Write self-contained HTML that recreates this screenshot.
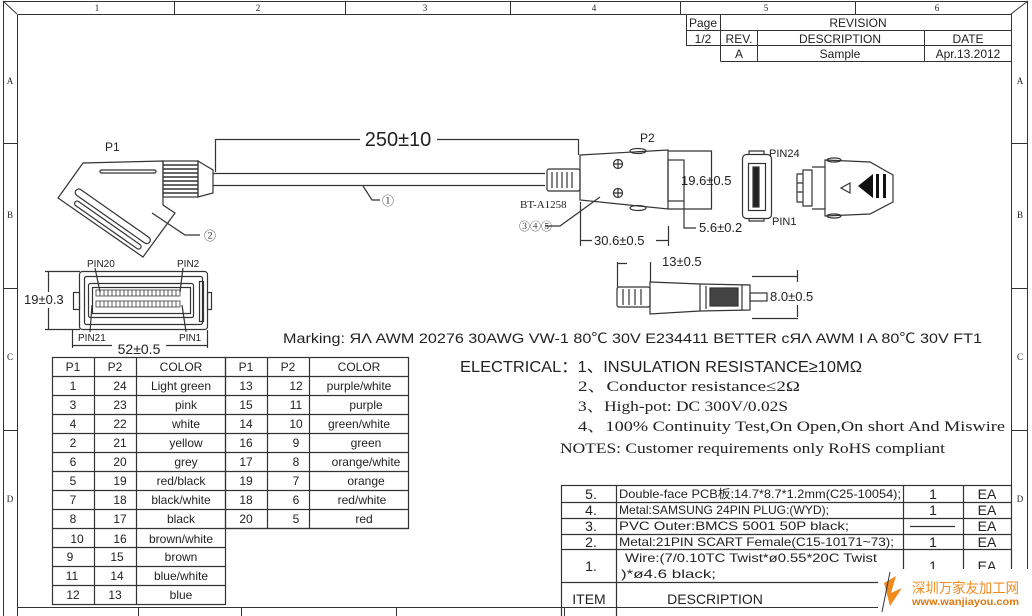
<!DOCTYPE html>
<html><head><meta charset="utf-8"><style>
html,body{margin:0;padding:0;background:#fff}
svg{display:block}
text{font-family:"Liberation Sans","Noto Sans CJK SC",sans-serif;fill:#222}
.s{font-family:"Liberation Serif","Noto Serif CJK SC",serif}
</style></head><body>
<svg width="1032" height="616" viewBox="0 0 1032 616" xmlns="http://www.w3.org/2000/svg">
<g fill="none" stroke="#333" stroke-width="1">
<rect x="3.5" y="1.5" width="1024" height="640"/>
<line x1="17.5" y1="14.5" x2="17.5" y2="616"/>
<line x1="17.5" y1="14.5" x2="1011.5" y2="14.5"/>
<line x1="1011.5" y1="14.5" x2="1011.5" y2="616"/>
<line x1="3" y1="1" x2="17" y2="14"/>
<line x1="1028" y1="1" x2="1011" y2="14"/>
<line x1="174.5" y1="1" x2="174.5" y2="14"/>
<line x1="345.5" y1="1" x2="345.5" y2="14"/>
<line x1="510.5" y1="1" x2="510.5" y2="14"/>
<line x1="680.5" y1="1" x2="680.5" y2="14"/>
<line x1="855.5" y1="1" x2="855.5" y2="14"/>
<line x1="3" y1="143.5" x2="17" y2="143.5"/>
<line x1="3" y1="288.5" x2="17" y2="288.5"/>
<line x1="3" y1="430.5" x2="17" y2="430.5"/>
<line x1="1011" y1="143.5" x2="1028" y2="143.5"/>
<line x1="1011" y1="288.5" x2="1028" y2="288.5"/>
<line x1="1011" y1="430.5" x2="1028" y2="430.5"/>
<line x1="17" y1="607.5" x2="1011" y2="607.5"/>
<line x1="138.5" y1="607" x2="138.5" y2="616"/>
<line x1="241.5" y1="607" x2="241.5" y2="616"/>
<line x1="396.5" y1="607" x2="396.5" y2="616"/>
<line x1="564.5" y1="607" x2="564.5" y2="616"/>
<rect x="686.5" y="14.5" width="325" height="31"/>
<line x1="686.5" y1="30.5" x2="1011" y2="30.5"/>
<line x1="720.5" y1="14.5" x2="720.5" y2="61.5"/>
<line x1="720.5" y1="61.5" x2="1011" y2="61.5"/>
<line x1="757.5" y1="30.5" x2="757.5" y2="61.5"/>
<line x1="924.5" y1="30.5" x2="924.5" y2="61.5"/>
</g>
<g font-size="9" text-anchor="middle" class="s">
<text x="97" y="11" class="s">1</text><text x="258" y="11" class="s">2</text><text x="425" y="11" class="s">3</text><text x="594" y="11" class="s">4</text><text x="766" y="11" class="s">5</text><text x="937" y="11" class="s">6</text>
<text x="10" y="84" class="s">A</text><text x="10" y="218" class="s">B</text><text x="10" y="360" class="s">C</text><text x="10" y="502" class="s">D</text>
<text x="1020" y="84" class="s">A</text><text x="1020" y="218" class="s">B</text><text x="1020" y="360" class="s">C</text><text x="1020" y="502" class="s">D</text>
</g>
<g font-size="12" text-anchor="middle">
<text x="703" y="27">Page</text><text x="858" y="27">REVISION</text>
<text x="703" y="43">1/2</text><text x="739" y="43">REV.</text><text x="840" y="43">DESCRIPTION</text><text x="968" y="43">DATE</text>
<text x="739" y="58">A</text><text x="840" y="58">Sample</text><text x="968" y="58">Apr.13.2012</text>
</g>

<g fill="none" stroke="#333" stroke-width="1.2">
<polygon points="83,163 163,161 163,205 175,213 143,257 58,198"/>
<rect x="163" y="161" width="35" height="36"/>
<g stroke-width="1.4"><line x1="163" y1="165" x2="198" y2="165"/><line x1="163" y1="169" x2="198" y2="169"/><line x1="163" y1="173" x2="198" y2="173"/><line x1="163" y1="177" x2="198" y2="177"/><line x1="163" y1="181" x2="198" y2="181"/><line x1="163" y1="185" x2="198" y2="185"/><line x1="163" y1="189" x2="198" y2="189"/><line x1="163" y1="193" x2="198" y2="193"/></g>
<polygon points="198,161 213,170 213,193 198,197"/>
<rect x="100" y="170" width="56" height="3" rx="1.5"/>
<g transform="rotate(35 110 215)"><rect x="68" y="211" width="90" height="7" rx="3.5"/><rect x="74" y="222" width="80" height="5" rx="2.5"/></g>
<line x1="213" y1="173.5" x2="545" y2="173.5"/>
<line x1="213" y1="185.5" x2="545" y2="185.5"/>
<line x1="215.5" y1="139" x2="215.5" y2="172"/>
<line x1="216" y1="139.5" x2="360" y2="139.5"/>
<line x1="437" y1="139.5" x2="578" y2="139.5"/>
<line x1="578.5" y1="139" x2="578.5" y2="155"/>
<polyline points="363,186 372,200 380,200"/>
<polyline points="152,213 185,235 200,235"/>
<rect x="79.5" y="271.5" width="128" height="58" rx="3"/>
<rect x="84.5" y="276.5" width="118" height="48" rx="2"/>
<rect x="88.5" y="283.5" width="105" height="34" rx="2"/>
<rect x="92.5" y="287.5" width="98" height="26"/>
<rect x="73.5" y="292.5" width="6" height="17"/>
<rect x="207.5" y="292.5" width="4" height="17"/>
<rect x="199.5" y="281.5" width="4" height="40"/>
<line x1="48.5" y1="271" x2="48.5" y2="292"/><line x1="48.5" y1="308" x2="48.5" y2="329"/>
<line x1="45" y1="271.5" x2="80" y2="271.5"/><line x1="45" y1="329.5" x2="80" y2="329.5"/>
<line x1="72.5" y1="330" x2="72.5" y2="348"/><line x1="207.5" y1="330" x2="207.5" y2="348"/>
<line x1="72" y1="345.5" x2="112" y2="345.5"/><line x1="166" y1="345.5" x2="207" y2="345.5"/>
<line x1="95" y1="268" x2="100" y2="292"/><line x1="183" y1="268" x2="180" y2="292"/>
<line x1="90" y1="332" x2="92" y2="305"/><line x1="186" y1="332" x2="182" y2="305"/>
</g>
<g fill="none" stroke="#333" stroke-width="0.8">
<path d="M96 290h84v6h-84zM100 290v6M104 290v6M108 290v6M112 290v6M116 290v6M120 290v6M124 290v6M128 290v6M132 290v6M136 290v6M140 290v6M144 290v6M148 290v6M152 290v6M156 290v6M160 290v6M164 290v6M168 290v6M172 290v6M176 290v6"/>
<path d="M96 301h84v6h-84zM100 301v6M104 301v6M108 301v6M112 301v6M116 301v6M120 301v6M124 301v6M128 301v6M132 301v6M136 301v6M140 301v6M144 301v6M148 301v6M152 301v6M156 301v6M160 301v6M164 301v6M168 301v6M172 301v6M176 301v6"/>
</g>
<text x="105" y="151" font-size="12">P1</text>
<text x="398" y="146" font-size="20" text-anchor="middle">250±10</text>
<text x="382" y="205" font-size="12" class="s">①</text>
<text x="204" y="240" font-size="12" class="s">②</text>
<text x="87" y="267" font-size="10">PIN20</text>
<text x="177" y="267" font-size="10">PIN2</text>
<text x="78" y="341" font-size="10">PIN21</text>
<text x="179" y="341" font-size="10">PIN1</text>
<text x="24" y="304" font-size="13">19±0.3</text>
<text x="139" y="354" font-size="14" text-anchor="middle">52±0.5</text>

<g fill="none" stroke="#333" stroke-width="1.2">
<rect x="547" y="169" width="33" height="22" rx="2"/>
<path d="M552 172v16M557 172v16M562 172v16M567 172v16M572 172v16"/>
<polygon points="580,155 668,150 668,209 580,200"/>
<ellipse cx="638" cy="151" rx="8" ry="2.5"/><ellipse cx="638" cy="208" rx="8" ry="2.5"/>
<circle cx="618" cy="164" r="4.5"/><circle cx="618" cy="193" r="4.5"/>
<path d="M614 164h8M618 160v8M614 193h8M618 189v8"/>
<rect x="668" y="160" width="16" height="41"/>
<path d="M668 151h44M668 209h44M711.5 151v58"/>
<path d="M684 201v27h12"/>
<path d="M580.5 202v44M668.5 226v20M580 240.5h12M656 240.5h12"/>
<polyline points="545,226 560,226 600,197"/>
<rect x="742.5" y="154.5" width="29" height="64" rx="4"/>
<rect x="748.5" y="163.5" width="17" height="47"/>
<rect x="753" y="167" width="6" height="40" fill="#222"/>
<path d="M749 154v-3h15v3M749 218v3h15v-3"/>
<polygon points="825,160 870,162 893,175 893,202 870,214 825,216"/>
<path d="M812 167h13M812 209h13M803 170h9v36h-9zM797 174h6v28h-6zM797 183h6M797 192h6"/>
<ellipse cx="834" cy="160" rx="7" ry="2"/><ellipse cx="834" cy="216" rx="7" ry="2"/>
<polygon points="841,188 850,183 850,193"/>
<rect x="617" y="287" width="33" height="20" rx="2"/>
<path d="M623 289v16M629 289v16M635 289v16M641 289v16"/>
<polygon points="650,282 700,284 750,285 750,310 700,311 650,314"/>
<path d="M700 284v27M706 286v23M742 285v25"/>
<rect x="710" y="288" width="28" height="18" fill="#444"/>
<rect x="750" y="293" width="17" height="8"/>
<path d="M617.5 262v25M650.5 262v20M617 263.5h10M752 276.5h46M752 318.5h46M797.5 270v12M797.5 305v12"/>
</g>
<polygon points="858,186 873,174 873,198" fill="#111"/>
<rect x="876" y="174" width="3" height="24" fill="#111"/><rect x="883" y="174" width="3" height="24" fill="#111"/>
<text x="640" y="142" font-size="12">P2</text>
<text x="681" y="185" font-size="13">19.6±0.5</text>
<text x="699" y="232" font-size="13">5.6±0.2</text>
<text x="594" y="245" font-size="13">30.6±0.5</text>
<text x="520" y="208" font-size="11" class="s">BT-A1258</text>
<text x="519" y="230" font-size="11" class="s">③④⑤</text>
<text x="769" y="157" font-size="11">PIN24</text>
<text x="772" y="225" font-size="11">PIN1</text>
<text x="662" y="266" font-size="13">13±0.5</text>
<text x="770" y="301" font-size="13">8.0±0.5</text>

<text x="283" y="343" font-size="14" textLength="699" lengthAdjust="spacingAndGlyphs">Marking: ЯΛ AWM 20276 30AWG VW-1 80℃ 30V E234411 BETTER cЯΛ AWM I A 80℃ 30V FT1</text>
<text x="460" y="372" font-size="16" textLength="402" lengthAdjust="spacingAndGlyphs">ELECTRICAL：1、INSULATION RESISTANCE≥10MΩ</text>
<text x="578" y="391" font-size="15" class="s" textLength="222" lengthAdjust="spacingAndGlyphs">2、Conductor resistance≤2Ω</text>
<text x="578" y="411" font-size="15" class="s" textLength="210" lengthAdjust="spacingAndGlyphs">3、High-pot: DC 300V/0.02S</text>
<text x="578" y="431" font-size="15" class="s" textLength="427" lengthAdjust="spacingAndGlyphs">4、100% Continuity Test,On Open,On short And Miswire</text>
<text x="560" y="453" font-size="15" class="s" textLength="385" lengthAdjust="spacingAndGlyphs">NOTES: Customer requirements only RoHS compliant</text>

<g fill="none" stroke="#333" stroke-width="1.2">
<rect x="52.5" y="357.5" width="173" height="247"/>
<rect x="225.5" y="357.5" width="183" height="171"/>
<path d="M94.5 357v247M136.5 357v247M267.5 357v171M309.5 357v171"/>
<path d="M52 376.5h356M52 395.5h356M52 414.5h356M52 433.5h356M52 452.5h356M52 471.5h356M52 490.5h356M52 509.5h356M52 528.5h356M52 547.5h173M52 566.5h173M52 585.5h173"/>
</g>
<g font-size="12" text-anchor="middle">
<text x="73" y="371">P1</text><text x="115" y="371">P2</text><text x="181" y="371">COLOR</text><text x="246" y="371">P1</text><text x="288" y="371">P2</text><text x="359" y="371">COLOR</text>
<text x="73" y="390">1</text><text x="120" y="390">24</text><text x="181" y="390">Light green</text><text x="246" y="390">13</text><text x="296" y="390">12</text><text x="359" y="390">purple/white</text>
<text x="73" y="409">3</text><text x="120" y="409">23</text><text x="186" y="409">pink</text><text x="246" y="409">15</text><text x="296" y="409">11</text><text x="366" y="409">purple</text>
<text x="73" y="428">4</text><text x="120" y="428">22</text><text x="186" y="428">white</text><text x="246" y="428">14</text><text x="296" y="428">10</text><text x="359" y="428">green/white</text>
<text x="73" y="447">2</text><text x="120" y="447">21</text><text x="186" y="447">yellow</text><text x="246" y="447">16</text><text x="296" y="447">9</text><text x="366" y="447">green</text>
<text x="73" y="466">6</text><text x="120" y="466">20</text><text x="186" y="466">grey</text><text x="246" y="466">17</text><text x="296" y="466">8</text><text x="366" y="466">orange/white</text>
<text x="73" y="485">5</text><text x="120" y="485">19</text><text x="181" y="485">red/black</text><text x="246" y="485">19</text><text x="296" y="485">7</text><text x="366" y="485">orange</text>
<text x="73" y="504">7</text><text x="120" y="504">18</text><text x="181" y="504">black/white</text><text x="246" y="504">18</text><text x="296" y="504">6</text><text x="362" y="504">red/white</text>
<text x="73" y="523">8</text><text x="120" y="523">17</text><text x="181" y="523">black</text><text x="246" y="523">20</text><text x="296" y="523">5</text><text x="364" y="523">red</text>
<text x="77" y="543">10</text><text x="120" y="543">16</text><text x="181" y="543">brown/white</text>
<text x="70" y="561">9</text><text x="117" y="561">15</text><text x="181" y="561">brown</text>
<text x="72" y="580">11</text><text x="117" y="580">14</text><text x="181" y="580">blue/white</text>
<text x="73" y="599">12</text><text x="115" y="599">13</text><text x="181" y="599">blue</text>
</g>

<g fill="none" stroke="#333" stroke-width="1.2">
<rect x="561.5" y="485.5" width="450" height="135"/>
<path d="M616.5 485v135M903.5 485v97M963.5 485v97"/>
<path d="M561 502.5h450M561 518.5h450M561 534.5h450M561 549.5h450M561 582.5h450"/>
<path d="M910 526.5h45"/>
</g>
<g font-size="14" text-anchor="middle">
<text x="591" y="499">5.</text><text x="591" y="515">4.</text><text x="591" y="531">3.</text><text x="591" y="547">2.</text><text x="591" y="571">1.</text>
<text x="933" y="499">1</text><text x="933" y="515">1</text><text x="933" y="571">1</text><text x="933" y="547">1</text>
<text x="987" y="499">EA</text><text x="987" y="515">EA</text><text x="987" y="531">EA</text><text x="987" y="547">EA</text><text x="987" y="571">EA</text>
<text x="589" y="604">ITEM</text><text x="715" y="604">DESCRIPTION</text>
</g>
<g font-size="12">
<text x="619" y="498" textLength="282" lengthAdjust="spacingAndGlyphs">Double-face PCB板:14.7*8.7*1.2mm(C25-10054);</text>
<text x="619" y="514" textLength="210" lengthAdjust="spacingAndGlyphs">Metal:SAMSUNG 24PIN PLUG:(WYD);</text>
<text x="619" y="530" textLength="230" lengthAdjust="spacingAndGlyphs">PVC Outer:BMCS 5001 50P black;</text>
<text x="619" y="546" textLength="275" lengthAdjust="spacingAndGlyphs">Metal:21PIN SCART Female(C15-10171~73);</text>
<text x="625" y="562" textLength="252" lengthAdjust="spacingAndGlyphs">Wire:(7/0.10TC Twist*ø0.55*20C Twist</text>
<text x="621" y="578" textLength="95" lengthAdjust="spacingAndGlyphs">)*ø4.6 black;</text>
</g>
<rect x="878" y="569" width="154" height="47" fill="#fff"/>
<path d="M884 583 L896 576 L891 593 L902 588 L890 606 Z" fill="#f08a1c"/>
<line x1="890" y1="572" x2="882" y2="612" stroke="#333" stroke-width="1"/>
<text x="912" y="593" font-size="14" style="fill:#f08a1c" textLength="107" lengthAdjust="spacingAndGlyphs">深圳万家友加工网</text>
<text x="912" y="605" font-size="10" font-weight="bold" style="fill:#e07810" textLength="107" lengthAdjust="spacingAndGlyphs">www.wanjiayou.com</text>
</svg>
</body></html>
